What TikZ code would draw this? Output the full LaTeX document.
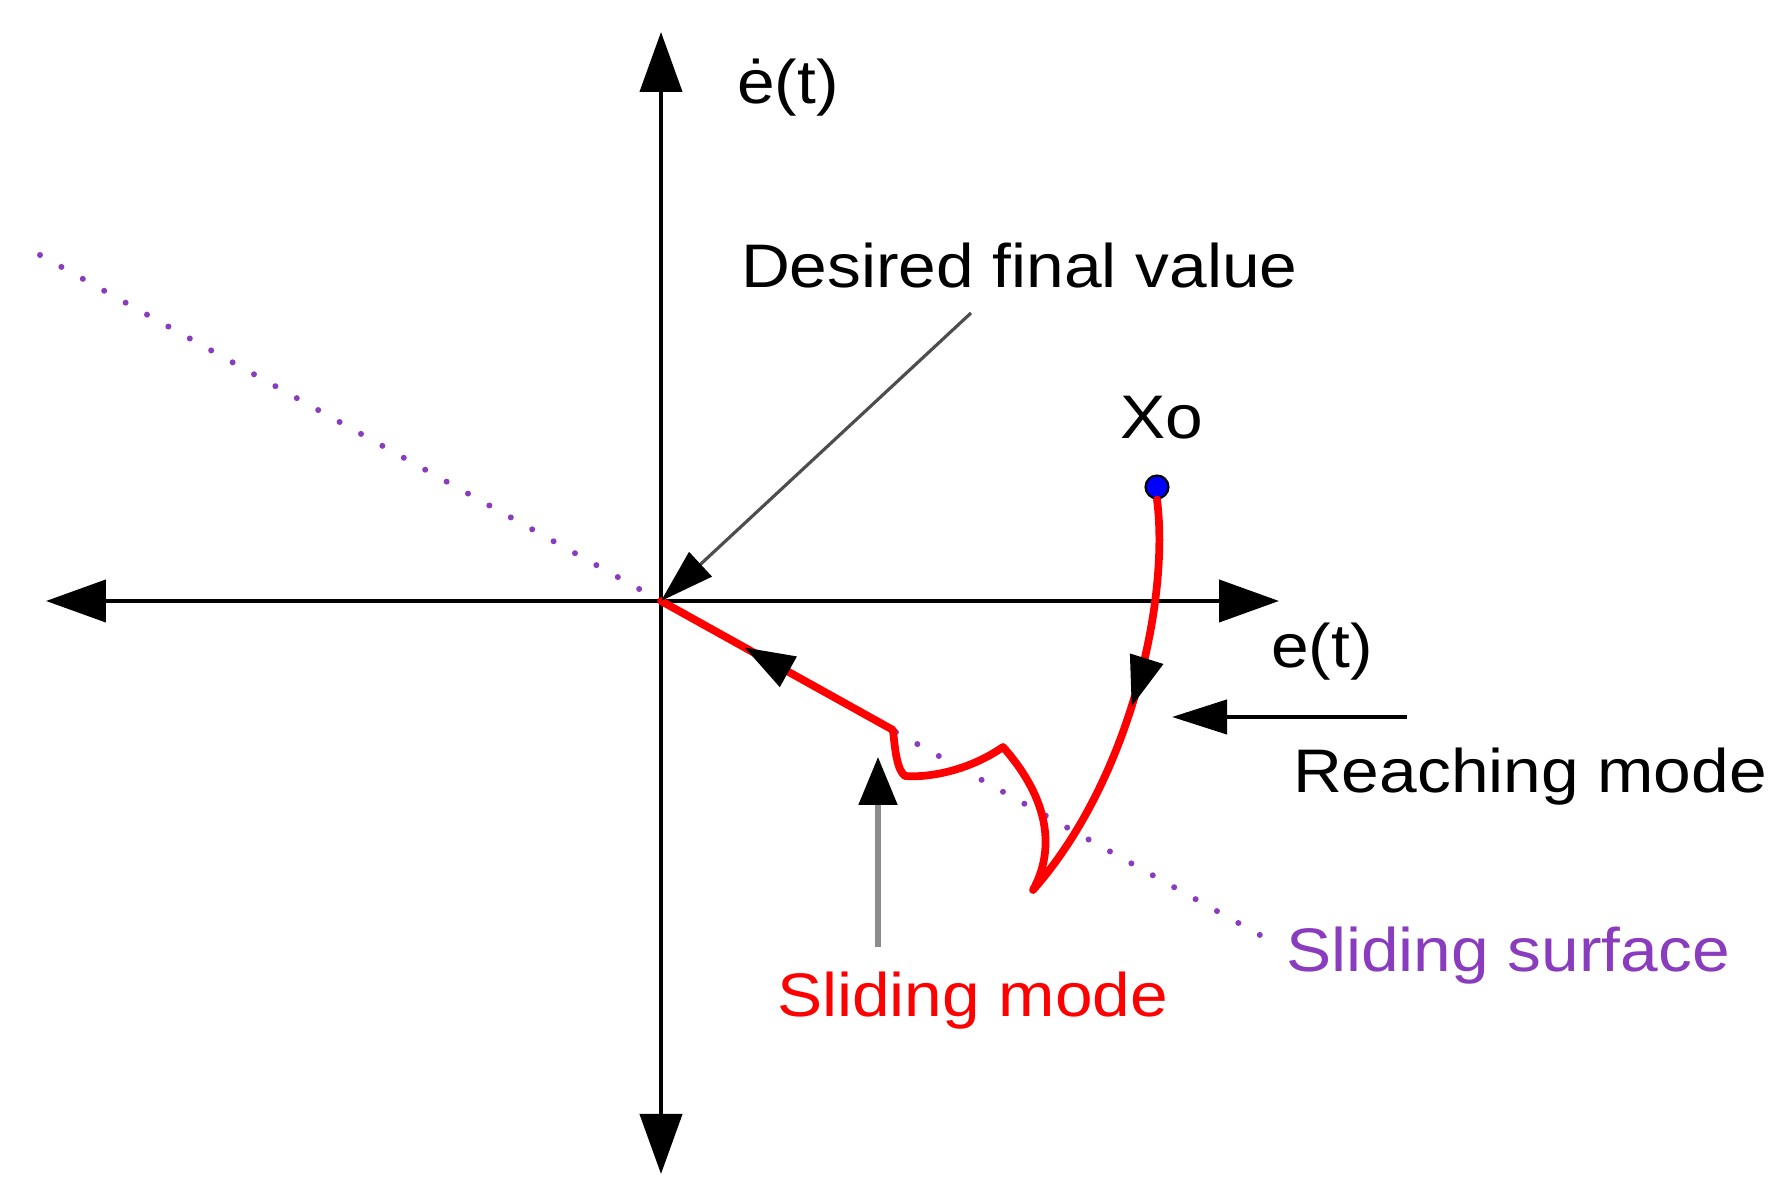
\documentclass[tikz,border=0pt]{standalone}
\usepackage{fontspec}
\setmainfont{Liberation Sans}[FakeStretch=1.1]
\usetikzlibrary{arrows.meta,decorations.markings}
\definecolor{surf}{HTML}{8A3CBF}
\definecolor{traj}{HTML}{FF0000}
\definecolor{ptr}{HTML}{4D4D4D}
\definecolor{light}{HTML}{8C8C8C}
\tikzset{pl/.style={x=.1mm,y=-.1mm,line width=1.2pt},
  lbl/.style={inner sep=0pt,anchor=base west,font=\fontsize{17.5}{21}\selectfont},
  axis/.style={{Triangle[length=6mm,width=4.2mm]}-{Triangle[length=6mm,width=4.2mm]}},
  midtip/.style={decoration={markings,mark=at position #1 with {\arrow{Triangle[length=5mm,width=3.4mm]}}},postaction=decorate}}

\begin{document}
\begin{tikzpicture}[pl]
  \useasboundingbox (0,0) rectangle (1787,1201);
  % axes
  \coordinate (O) at (661,601);
  \coordinate (xl) at (46,601); \coordinate (xr) at (1279,601);
  \coordinate (yb) at (661,1174); \coordinate (yt) at (661,32);
  \draw[axis] (xl)--(xr); \draw[axis] (yb)--(yt);
  \node[lbl] (edot) at (735,104) {ė(t)};
  \node[lbl] (e) at (1269,668) {e(t)};
  % sliding surface
  \coordinate (s1) at (40,255); \coordinate (s2) at (1276,944);
  \draw[surf,line width=.6mm,line cap=round,dash pattern=on 0pt off 2.45mm] (s1)--(s2);
  \node[lbl,surf] (ssurf) at (1284,972) {Sliding surface};
  % trajectory
  \node[circle,draw=black,fill=blue,line width=.6pt,inner sep=0pt,minimum size=2.3mm] (x0) at (1157,487) {};
  \node[lbl] (xo) at (1118,439) {Xo};
  \coordinate (cusp) at (1033,890); \coordinate (peak) at (1003,747); \coordinate (kink) at (893,730);
  \draw[traj,line width=2.2pt,line join=round,line cap=round] (x0.south) .. controls (1170,600) and (1130,780) .. (cusp)
    .. controls (1055,850) and (1050,800) .. (peak) .. controls (970,770) and (930,778) .. (905,776)
    .. controls (897,770) and (895,750) .. (kink) -- (O);
  \path[midtip=.5] (x0.south) .. controls (1170,600) and (1130,780) .. (cusp);
  \path[midtip=.64] (kink)--(O);
  % labels and pointers
  \node[lbl] (dfv) at (739,288) {Desired final value};
  \coordinate (dfv-t) at (971,313);
  \draw[ptr,line width=.9pt,-{Triangle[length=5.4mm,width=3.3mm,color=black]}] (dfv-t)--(O);
  \node[lbl] (rmode) at (1291,793) {Reaching mode};
  \coordinate (rm-s) at (1407,717); \coordinate (rm-e) at (1172,717);
  \draw[-{Triangle[length=5.5mm,width=3.4mm]}] (rm-s)--(rm-e);
  \node[lbl,traj] (smode) at (775,1017) {Sliding mode};
  \coordinate (sm-s) at (878,947); \coordinate (sm-e) at (878,757);
  \draw[light,line width=1.5pt,-{Triangle[length=4.8mm,width=3.8mm,color=black]}] (sm-s)--(sm-e);
\end{tikzpicture}
\end{document}
